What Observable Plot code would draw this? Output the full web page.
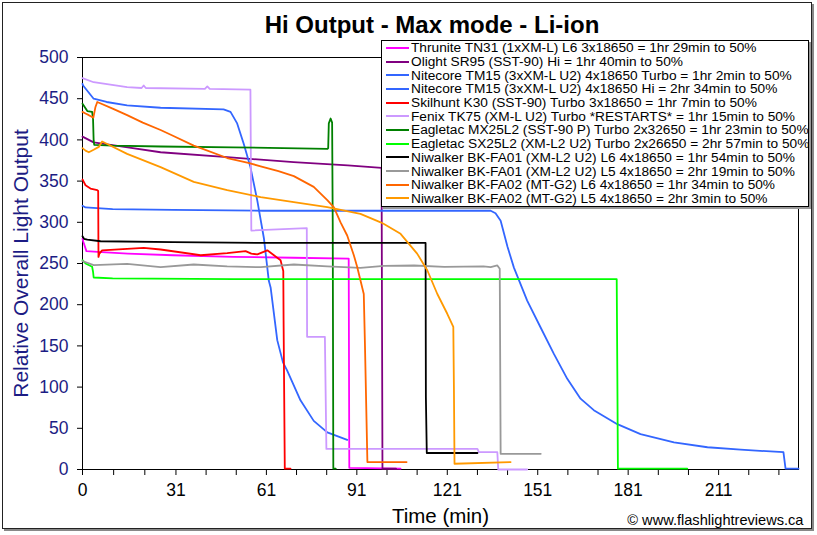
<!DOCTYPE html>
<html><head><meta charset="utf-8">
<script src="https://cdn.jsdelivr.net/npm/d3@7"></script>
<script src="https://cdn.jsdelivr.net/npm/@observablehq/plot@0.6"></script>
<style>
body{margin:0;background:#fff;font-family:"Liberation Sans",Arial,sans-serif;}
#wrap{position:relative;width:817px;height:535px;overflow:hidden;background:#fff;}
#border{position:absolute;left:2px;top:2px;width:808px;height:525px;border:1px solid #222;box-shadow:2px 2px 0 #888;}
#title{position:absolute;left:0;width:864px;top:11px;text-align:center;font-size:24px;font-weight:bold;color:#000;white-space:nowrap;}
#plot{position:absolute;left:0;top:0;}
#legend{position:absolute;left:381px;top:40px;width:426px;height:165px;background:#fff;border:1px solid #000;box-shadow:2px 2px 0 #999;overflow:hidden;}
.row{display:flex;align-items:center;height:13.7px;white-space:nowrap;font-size:13.7px;color:#000;}
.sw{width:23px;height:2px;margin-left:4px;margin-right:2px;flex:none;}
g[aria-label^="y-axis"] text{fill:#1c1c84;}
</style></head>
<body>
<div id="wrap">
<div id="border"></div>
<div id="plot"></div>
<div id="title"></div>
<div id="legend"></div>
</div>
<script>
// ---- data (time in minutes, relative output) ----
const titleText = "Hi Output - Max mode - Li-ion";
const yTitle = "Relative Overall Light Output";
const xTitle = "Time (min)";
const credit = "© www.flashlightreviews.ca";
const yTicks = [0, 50, 100, 150, 200, 250, 300, 350, 400, 450, 500];
const xLabels = [0, 31, 61, 91, 121, 151, 181, 211];
const xMinor = [10.33, 20.67, 41, 51, 71, 81, 101, 111, 131, 141, 161, 171, 191, 201, 221, 231];

const names = [
  "Thrunite TN31 (1xXM-L) L6 3x18650 = 1hr 29min to 50%",
  "Olight SR95 (SST-90) Hi = 1hr 40min to 50%",
  "Nitecore TM15 (3xXM-L U2) 4x18650 Turbo = 1hr 2min to 50%",
  "Nitecore TM15 (3xXM-L U2) 4x18650 Hi = 2hr 34min to 50%",
  "Skilhunt K30 (SST-90) Turbo 3x18650 = 1hr 7min to 50%",
  "Fenix TK75 (XM-L U2) Turbo *RESTARTS* = 1hr 15min to 50%",
  "Eagletac MX25L2 (SST-90 P) Turbo 2x32650 = 1hr 23min to 50%",
  "Eagletac SX25L2 (XM-L2 U2) Turbo 2x26650 = 2hr 57min to 50%",
  "Niwalker BK-FA01 (XM-L2 U2) L6 4x18650 = 1hr 54min to 50%",
  "Niwalker BK-FA01 (XM-L2 U2) L5 4x18650 = 2hr 19min to 50%",
  "Niwalker BK-FA02 (MT-G2) L6 4x18650 = 1hr 34min to 50%",
  "Niwalker BK-FA02 (MT-G2) L5 4x18650 = 2hr 3min to 50%"
];
const colors = ["#ff00ff","#800080","#3366ff","#3366ff","#ff0000","#cc99ff","#008000","#00ff00","#000000","#999999","#ff6600","#ff9900"];

const thruniteTN31 = [[0,280],[0.3,276],[1.3,265],[5,264],[15,262],[30,260],[50,258],[70,257],[88.3,256],[88.5,2],[105.5,1]];
const olightSR95 = [[0,404],[3.7,397],[15,391],[25.9,385],[48,379],[70,373],[88,369],[99.2,366],[99.5,1],[104,1]];
const nitecoreTurbo = [[0,468],[0.2,466],[3.7,450],[8,446],[14.8,442],[25.9,439],[46.8,437],[49.1,434],[51.3,420],[53.5,395],[55.7,367],[58,326],[60.2,280],[61.8,229],[62.4,221],[64.6,157],[66.5,130],[67.9,120],[72.3,84],[76.7,59],[81.2,45],[87.8,36]];
const nitecoreHi = [[0,320],[1,318],[10,316],[30,315],[60,314],[100,314],[135.4,314],[137,311],[138.7,302],[141,270],[143.1,245],[147.5,205],[152,172],[156.4,140],[160.8,110],[165.2,86],[169.6,72],[177.4,55],[185.1,43],[196.2,33],[207.3,27],[218.3,24],[232.5,21],[233.2,1],[237.5,1]];
const skilhuntK30 = [[0,352],[1,345],[2.65,341],[4.9,339],[5.2,338],[5.3,258],[5.6,262],[6.5,266],[20.3,269],[25.9,267],[39.2,260],[48,262.5],[54.1,265],[56,262],[58,261],[61.3,266],[63.5,260],[65.7,254],[66.6,241],[66.7,181],[67.1,1],[69,1]];
const fenixTK75 = [[0,475],[3.7,470],[14.8,464],[19.6,463],[20.3,466],[21,463],[40.6,462],[41.4,465],[42.2,462],[55.7,461],[56,290],[74.4,293],[74.5,161],[80.4,161],[80.9,25],[131,25],[131.5,21],[137.6,21],[137.9,0],[147.5,0]];
const eagletacMX25L2 = [[0,444],[1.6,435],[3.2,434],[3.5,425],[3.7,399],[3.9,394],[10,393],[25.9,392],[50,391],[81.2,389],[81.5,390],[81.7,420],[82.3,426],[82.8,421],[83.0,300],[83.2,1],[84,1]];
const eagletacSX25L2 = [[0,254],[1,250],[3.2,246],[3.5,240],[3.7,233],[10,232],[50,231],[100,231],[150,231],[177.2,231],[177.4,120],[177.6,1],[200.6,1]];
const niwalkerFA01L6 = [[0,283],[0.5,280],[1.6,279],[6,277],[30,276],[60,275],[90,275],[113.8,275],[113.9,88],[114.2,20],[131,20]];
const niwalkerFA01L5 = [[0,253],[3.7,248],[14.8,249.6],[25.9,245.5],[36.9,248.8],[48,246.4],[59.1,245.5],[70.1,248.8],[81.2,246.4],[92.2,244.8],[100,247],[110,247.6],[120,246],[133,246.4],[135.4,245.5],[137.6,247.6],[138.4,243.6],[138.7,19],[152,19]];
const niwalkerFA02L6 = [[0,434],[1,432],[2.1,430],[3.6,427],[4.3,440],[4.9,446],[10,438],[14.8,430],[20,421],[25.9,412],[30,405],[36.9,393],[39.2,390],[48,378],[55,372],[59.1,368],[65,362],[70.1,356],[76.7,343],[81.2,327],[83.4,318],[85.6,300],[87.8,284],[90,260],[91.1,246],[93.3,213],[93.7,150],[94.5,9],[107.5,9]];
const niwalkerFA02L5 = [[0,390],[1,387],[2.1,385],[3.7,388],[5.4,391.5],[6.5,398],[8.2,395],[14.8,383],[25.9,367],[36.9,349],[48,339],[59.1,330.5],[70.1,324.4],[81.2,318.3],[92.2,310.3],[98.9,300],[100,298],[105.5,286],[111,262],[114.4,241.5],[117.7,213],[121,189],[123,173],[123.2,100],[123.4,7],[142,9]];

const seriesData = [thruniteTN31, olightSR95, nitecoreTurbo, nitecoreHi, skilhuntK30, fenixTK75, eagletacMX25L2, eagletacSX25L2, niwalkerFA01L6, niwalkerFA01L5, niwalkerFA02L6, niwalkerFA02L5];

// ---- chart ----
const navy = "#1c1c84";
const chart = Plot.plot({
  width: 817, height: 535,
  marginLeft: 82, marginRight: 19, marginTop: 57, marginBottom: 66,
  style: {fontFamily: "Liberation Sans, Arial, sans-serif", fontSize: "17.5px", background: "transparent", color: "#000", overflow: "visible"},
  x: {domain: [0, 237.5], ticks: [...xLabels, ...xMinor].sort((a,b)=>a-b), tickFormat: d => xLabels.includes(d) ? String(d) : "", tickSize: 6, tickPadding: 8, label: null},
  y: {domain: [0, 500], ticks: yTicks, tickSize: 5, tickPadding: 9, label: null},
  marks: [
    Plot.frame({stroke: "#000"}),
    ...seriesData.map((s, i) => Plot.line(s, {x: d => d[0], y: d => d[1], stroke: colors[i], strokeWidth: 1.8})),
    Plot.text([yTitle], {frameAnchor: "left", rotate: -90, textAnchor: "middle", dx: -61, fontSize: 21, fill: navy}),
    Plot.text([xTitle], {frameAnchor: "bottom", dy: 53, fontSize: 20.5, fill: "#000"}),
    Plot.text([credit], {frameAnchor: "bottom-right", dx: 5, dy: 55, textAnchor: "end", fontSize: 14.6, fill: "#000"})
  ]
});
document.getElementById("plot").appendChild(chart);
document.getElementById("title").textContent = titleText;

const legend = d3.select("#legend");
names.forEach((n, i) => {
  const row = legend.append("div").attr("class", "row");
  row.append("span").attr("class", "sw").style("background", colors[i]);
  row.append("span").text(n);
});
</script>
</body></html>
